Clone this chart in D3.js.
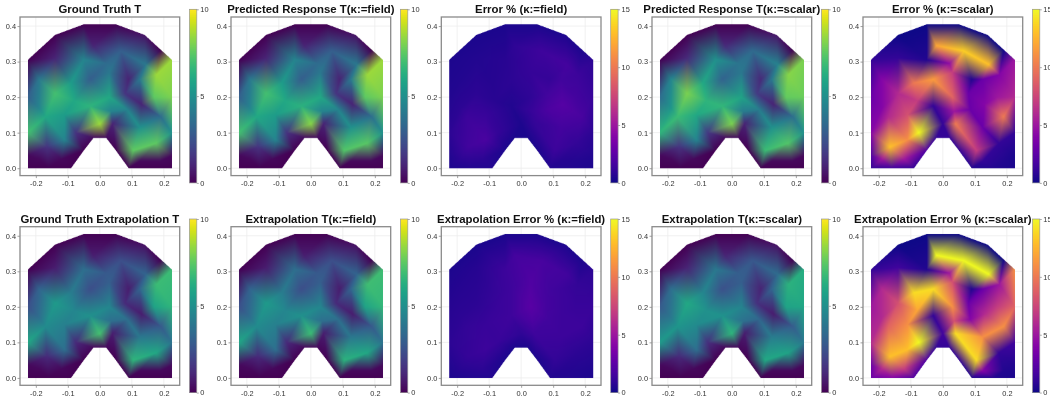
<!DOCTYPE html>
<html><head><meta charset="utf-8">
<script src="https://cdn.jsdelivr.net/npm/d3@7"></script>
<style>
html,body{margin:0;padding:0;background:#fff;overflow:hidden}
#wrap{position:relative;width:1050px;height:400px}
canvas{position:absolute;left:0;top:0;filter:blur(0.6px)}
svg{position:absolute;left:0;top:0;filter:blur(0.25px)}
text{font-family:"Liberation Sans",Arial,sans-serif}
</style></head><body><div id="wrap"></div>
<script>
const outline=[[-.225,0],[-.09,0],[-.05,.05],[-.02,.085],[.02,.085],[.05,.05],[.09,0],[.225,0],[.225,.305],[.14,.375],[.05,.405],[-.05,.405],[-.14,.375],[-.225,.305]];
const nodeX=[-.225,-.16,-.09,-.05,-.02,.02,.05,.09,.16,.225,.225,.225,.225,.14,.05,-.05,-.14,-.225,-.225,-.225,
 -.17,-.165,-.11,-.075,0,.04,.105,.175,.125,.19,-.11,-.03,.03,.085,-.14,-.09,-.03,.03,.09,.13,.177,.125,-.05,.02,-.02,.065,.143,-.14,-.19,.17,
 -.08,-.19,-.225,.225,-.19,-.12,.125,.19,.08,.19,.035];
const nodeY=[0,0,0,.05,.085,.085,.05,0,0,0,.1,.2,.305,.375,.405,.405,.375,.305,.2,.1,
 .145,.06,.08,.1,.125,.125,.05,.07,.115,.145,.15,.175,.2,.165,.21,.24,.25,.27,.25,.18,.263,.25,.305,.295,.345,.33,.292,.31,.25,.2,
 .19,.17,.035,.035,.025,.025,.02,.02,.21,.333,.16];
const truthT=[0,0,0,0,.3,.3,0,0,0,0,5,8,8.5,.5,0,0,0,0,3,7,
 6,1.5,4.5,1.5,8.5,1,7.5,7.5,5,3.5,5.5,6.5,6,4.5,7,5.5,3,4,1,1,8.5,4,4.5,3.5,1,3,4,1,4,7.5,
 6,4.5,.2,.2,.2,.2,.2,.2,1.5,0,4.5];
const predField=[0,0,0,0,.3,.3,0,0,0,0,5,8,8.5,.5,0,0,0,0,3,7,
 6,1.5,4.5,1.5,8.2,1,7.3,7.4,5,3.6,5.5,6.4,6,4.5,7,5.5,3,4,1,1,8.5,4,4.5,3.5,1,3,4,1,4,7.5,
 6,4.5,.2,.2,.2,.2,.2,.2,1.5,0,4.5];
const errField=[.4,.5,.5,.4,.3,.3,.4,.5,.5,.4,.8,1.2,.8,.4,.3,.3,.3,.4,.5,.8,
 1.3,1.5,1.8,1.1,.4,1,1.3,1,1.6,1.7,1.2,.5,.9,1.9,.8,.6,.8,1.1,1.1,2.2,1.3,1.5,.7,1.1,.9,1.4,1.6,.5,.5,1.6,
 .7,.8,.5,.5,.8,.8,.6,.5,1.5,.4,1.2];
const predScalar=[0,0,0,0,.3,.3,0,0,0,0,5,7.7,8,.6,0,0,0,0,3.5,6.5,
 6.8,1.5,4.5,1.7,8,1,6.8,7.3,5,3.6,6,6.6,5.8,4.2,8,6,3.2,4,1.2,1,8.2,4,5,3.9,1.2,3.4,4.4,1.2,4.6,7.6,
 6.5,5.2,.2,.2,.2,.2,.2,.2,1.7,0,4.2];
const errScalar=[1,1.5,1,2,1,1,1,.5,.5,.3,1,6,5,0,0,0,0,1,3,4,
 6,13,11,15,1,10,7,1,3,10,8,1,9,3,6,10,11.5,7,.5,4,4,3,.5,4.5,12,13.5,13,1,4,5,
 7,4,2,.3,5,5,1,.5,3,0,5];
const truthX=[0,0,0,0,.2,.2,0,0,0,0,3.8,6.5,6.8,.4,0,0,0,0,2.4,6,
 4.8,1.2,3.6,1.2,7,.8,6.5,6,4,2.8,4.3,5,4.6,3.6,5.4,4.2,2.4,3,.8,.8,6.8,3.2,3.6,2.8,.8,2.4,3.2,.8,3.2,5.8,
 4.6,3.6,.2,.2,.2,.2,.2,.2,1.2,0,3.6];
const predX=[0,0,0,0,.2,.2,0,0,0,0,3.8,6.6,6.9,.4,0,0,0,0,2.4,5.9,
 4.8,1.2,3.6,1.2,6.8,.8,6.4,6,4,2.8,4.3,5,4.6,3.6,5.4,4.2,2.4,3,.8,.8,6.9,3.2,3.6,2.8,.8,2.4,3.2,.8,3.2,5.8,
 4.6,3.6,.2,.2,.2,.2,.2,.2,1.2,0,3.6];
const errX=[.4,.5,.5,.4,.4,.4,.4,.5,.5,.4,.8,1.2,.8,.4,.3,.3,.3,.4,.6,.8,
 1,1.1,1.3,1.2,.9,1.4,1,.8,1.3,1.3,1.2,1.4,2.3,1.5,.8,1,1.4,2,1.5,1.3,1,1.3,1.3,1.9,1.6,1.7,1.5,.6,.6,1.2,
 1.2,.8,.5,.5,.7,.8,.6,.5,1.6,.4,1.9];
const predScalarX=[0,0,0,0,.2,.2,0,0,0,0,4,5.9,6.2,.5,0,0,0,0,2.8,5.4,
 5.2,1.2,3.6,1.4,6.5,.8,6,5.8,4.2,2.9,4.8,5.1,4.5,3.3,6,4.6,2.5,3,1,.8,6.4,3.2,4,3,1,2.7,3.5,1,3.6,5.8,
 5,4,.2,.2,.2,.2,.2,.2,1.4,0,3.7];
const errScalarX=[3,4,2,2,1,1,1,.5,.5,.3,1.5,9,11,0,0,0,0,1,5,6,
 9,13,13,15,1.5,14,14,1,11,11,11,1,11,4,8,14,14,8,.5,6,5,3,.5,5,15,15,15,1.5,6,7,
 12,6,3,.5,6,7,4,.5,3,0,8];

const titles=["Ground Truth T","Predicted Response T(κ:=field)","Error % (κ:=field)","Predicted Response T(κ:=scalar)","Error % (κ:=scalar)",
 "Ground Truth Extrapolation T","Extrapolation T(κ:=field)","Extrapolation Error % (κ:=field)","Extrapolation T(κ:=scalar)","Extrapolation Error % (κ:=scalar)"];
const fields=[truthT,predField,errField,predScalar,errScalar,truthX,predX,errX,predScalarX,errScalarX];
const kinds=["T","T","E","T","E","T","T","E","T","E"];
const xTicks=[-.2,-.1,0,.1,.2], yTicks=[0,.1,.2,.3,.4];
const barTicks={T:[0,5,10],E:[0,5,10,15]};
const lefts=[20,231,441.3,652,863], tops=[17,226.7];
const W=159.7,H=158.6,SS=3;

const colorT=d3.scaleSequential([0,10],d3.interpolateViridis);
const colorE=d3.scaleSequential([0,15],d3.interpolatePlasma);
const wrap=d3.select("#wrap");
const cv=wrap.append("canvas").attr("width",1050).attr("height",400).node();
const ctx=cv.getContext("2d");
ctx.fillStyle="#fff";ctx.fillRect(0,0,1050,400);
const svg=wrap.append("svg").attr("width",1050).attr("height",400);
const tickFmt=v=>d3.format(".1f")(v).replace("−","-");

const pts=nodeX.map((x,i)=>[x,nodeY[i]]);
const del=d3.Delaunay.from(pts);
const tris=[];
for(let i=0;i<del.triangles.length;i+=3){
  const t=[del.triangles[i],del.triangles[i+1],del.triangles[i+2]];
  const c=[d3.mean(t,k=>pts[k][0]),d3.mean(t,k=>pts[k][1])];
  if(d3.polygonContains(outline,c)) tris.push(t);
}

function shade(x,y,w,h,xs,ys,vals,color){
  const cw=Math.ceil(w*SS),ch=Math.ceil(h*SS);
  const off=document.createElement("canvas");off.width=cw;off.height=ch;
  const o=off.getContext("2d"),img=o.createImageData(cw,ch),d=img.data;
  const rgb=vals.map(v=>d3.rgb(color(v)));
  for(const [a,b,c] of tris){
    const ax=(xs(pts[a][0])-x)*SS,ay=(ys(pts[a][1])-y)*SS,bx=(xs(pts[b][0])-x)*SS,by=(ys(pts[b][1])-y)*SS,cx=(xs(pts[c][0])-x)*SS,cy=(ys(pts[c][1])-y)*SS;
    const den=(by-cy)*(ax-cx)+(cx-bx)*(ay-cy);
    if(!den)continue;
    const x0=Math.max(0,Math.floor(Math.min(ax,bx,cx))),x1=Math.min(cw-1,Math.ceil(Math.max(ax,bx,cx)));
    const y0=Math.max(0,Math.floor(Math.min(ay,by,cy))),y1=Math.min(ch-1,Math.ceil(Math.max(ay,by,cy)));
    for(let py=y0;py<=y1;py++)for(let px=x0;px<=x1;px++){
      const u=((by-cy)*(px+.5-cx)+(cx-bx)*(py+.5-cy))/den;
      const v=((cy-ay)*(px+.5-cx)+(ax-cx)*(py+.5-cy))/den;
      const s=1-u-v;
      if(u<-1e-6||v<-1e-6||s<-1e-6)continue;
      const k=(py*cw+px)*4;
      d[k]=u*rgb[a].r+v*rgb[b].r+s*rgb[c].r;
      d[k+1]=u*rgb[a].g+v*rgb[b].g+s*rgb[c].g;
      d[k+2]=u*rgb[a].b+v*rgb[b].b+s*rgb[c].b;
      d[k+3]=255;
    }
  }
  o.putImageData(img,0,0);
  ctx.imageSmoothingEnabled=true;ctx.imageSmoothingQuality="high";
  ctx.drawImage(off,x,y,cw/SS,ch/SS);
}

fields.forEach((vals,i)=>{
  const col=i%5,row=Math.floor(i/5),L=lefts[col],T=tops[row];
  const xs=d3.scaleLinear([-.2495,.2495],[L,L+W]);
  const ys=d3.scaleLinear([-.0208,.4255],[T+H,T]);
  const g=svg.append("g");
  const color=kinds[i]==="T"?colorT:colorE;
  ctx.strokeStyle="#ececec";ctx.lineWidth=.8;
  xTicks.forEach(v=>{ctx.beginPath();ctx.moveTo(xs(v),T);ctx.lineTo(xs(v),T+H);ctx.stroke();});
  yTicks.forEach(v=>{ctx.beginPath();ctx.moveTo(L,ys(v));ctx.lineTo(L+W,ys(v));ctx.stroke();});
  shade(L,T,W,H,xs,ys,vals,color);
  g.append("rect").attr("x",L).attr("y",T).attr("width",W).attr("height",H).attr("fill","none").attr("stroke","#8a8a8a").attr("stroke-width",1.3);
  const ax=g.append("g").attr("transform",`translate(0,${T+H})`).call(d3.axisBottom(xs).tickValues(xTicks).tickFormat(tickFmt).tickSize(2.5).tickSizeOuter(0));
  const ay=g.append("g").attr("transform",`translate(${L},0)`).call(d3.axisLeft(ys).tickValues(yTicks).tickFormat(tickFmt).tickSize(2.5).tickSizeOuter(0));
  [ax,ay].forEach(a=>{a.select(".domain").remove();a.selectAll("line").attr("stroke","#8a8a8a").attr("stroke-width",.8);
    a.selectAll("text").attr("fill","#333").style("font-size","7.4px").style("font-family",'"Liberation Sans",Arial,sans-serif');});
  ax.selectAll("text").attr("dy","0.72em").attr("y",5);
  ay.selectAll("text").attr("x",-4);
  g.append("text").attr("x",L+W/2).attr("y",T-3.9).attr("text-anchor","middle").attr("font-weight","bold").attr("font-size",11.4).attr("fill","#111").text(titles[i]);
  const bx=L+W+9.7,bw=7.4,bt=T-7.7,bb=T+H+7.3;
  const top=color.domain()[1];
  const by=d3.scaleLinear([0,top],[bb,bt]);
  for(let p=Math.floor(bt);p<Math.ceil(bb);p++){
    ctx.fillStyle=color(Math.min(top,Math.max(0,by.invert(p+.5))));
    ctx.fillRect(bx,p,bw,1);
  }
  g.append("rect").attr("x",bx).attr("y",bt).attr("width",bw).attr("height",bb-bt).attr("fill","none").attr("stroke","#999").attr("stroke-width",.7);
  const ac=g.append("g").attr("transform",`translate(${bx+bw},0)`).call(d3.axisRight(by).tickValues(barTicks[kinds[i]]).tickFormat(d3.format("d")).tickSize(2).tickSizeOuter(0));
  ac.select(".domain").remove();ac.selectAll("line").attr("stroke","#888").attr("stroke-width",.7);
  ac.selectAll("text").attr("x",3.5).attr("fill","#333").style("font-size","7.4px").style("font-family",'"Liberation Sans",Arial,sans-serif');
});
</script></body></html>
